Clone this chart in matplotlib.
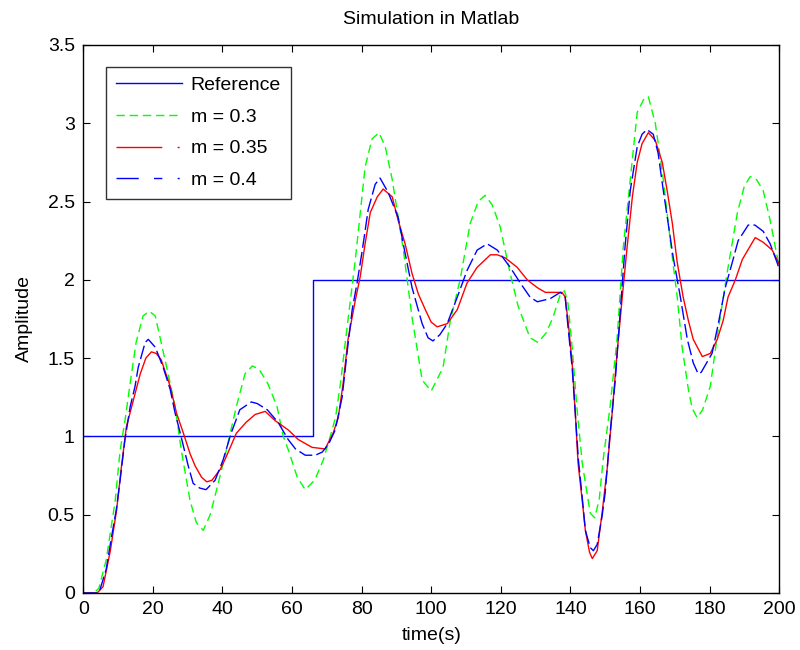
import matplotlib
matplotlib.use("Agg")
import matplotlib.pyplot as plt
from matplotlib.lines import Line2D

plt.rcParams['font.family'] = ['Liberation Sans', 'DejaVu Sans']

# Reference signal (step)
ref_t = [0, 66, 66, 200]
ref_y = [1, 1, 2, 2]

# m = 0.3
t_03 = [0, 3, 4.5, 6.6, 9.2, 10.6, 12, 13.5, 15.2, 17.2, 19, 20.7, 22.4, 24.4, 26.4, 28.2,
        30.7, 32.5, 34.5, 36.5, 38.8, 41.1, 44, 46.5, 48.6, 50.5, 53, 55.7, 57.5, 59, 61.5,
        63.8, 66.5, 69, 71, 72.5, 74, 75.3, 78.2, 81, 83, 85, 86.8, 88.8, 92, 94.5, 97.4,
        100, 103.4, 105.5, 108.3, 111.2, 113.5, 115.5, 117.5, 119.8, 122.7, 125, 128.4,
        130.7, 133, 135, 137, 138.3, 139.3, 140.5, 142, 143.4, 145.7, 147, 148.3, 149.4,
        151.4, 153.4, 155.2, 157.2, 159.2, 161, 162.4, 164.4, 166.7, 168.7, 170.7, 172.1,
        173.9, 175, 176.4, 178, 180.2, 182.2, 185, 188, 190, 191.7, 193.5, 195.4, 197.4,
        199.4, 200]
y_03 = [0, 0, 0.03, 0.21, 0.59, 0.91, 1.10, 1.34, 1.60, 1.77, 1.80, 1.77, 1.60, 1.40, 1.19, 0.91,
        0.59, 0.45, 0.40, 0.50, 0.70, 0.91, 1.19, 1.40, 1.45, 1.43, 1.34, 1.19, 1.00, 0.91, 0.74,
        0.66, 0.72, 0.85, 1.00, 1.12, 1.35, 1.60, 2.13, 2.72, 2.90, 2.94, 2.85, 2.64, 2.19, 1.76, 1.36,
        1.29, 1.44, 1.74, 2.00, 2.36, 2.50, 2.54, 2.48, 2.34, 2.04, 1.83, 1.63,
        1.60, 1.66, 1.76, 1.90, 1.93, 1.85, 1.57, 1.15, 0.83, 0.51, 0.48, 0.60, 0.85,
        1.19, 1.62, 2.21, 2.64, 3.07, 3.15, 3.17, 3.00, 2.64, 2.25, 1.89, 1.57,
        1.30, 1.18, 1.12, 1.17, 1.32, 1.64, 2.04, 2.43, 2.60, 2.66, 2.64, 2.57, 2.38,
        2.15, 2.08]

# m = 0.35
t_035 = [0, 4, 5.7, 7.8, 9.6, 11, 12.4, 14.4, 16.4, 18, 19.6, 21, 22.4, 25, 26.8, 28.8, 30.7,
         32.2, 34, 35.5, 37, 39.4, 41.1, 44, 46.8, 49.4, 52.3, 55.2, 59, 61.8, 65.8, 69.5,
         71.8, 73.3, 74.7, 76.1, 78.2, 79.6, 81, 82.5, 84.5, 86.2, 88.8, 90.5, 92.5, 94.5,
         96.3, 98.3, 100, 101.7, 104.6, 107.5, 110.3, 113.2, 117, 119, 121.3, 124.7, 127.6,
         130.5, 132.8, 137.6, 138.5, 139.4, 140.5, 141.4, 142.2, 143.4, 144.3, 145.5, 146.3,
         147.7, 149.1, 150.6, 152, 153.4, 154.9, 156.3, 157.8, 159.2, 160.6, 162.4, 164.4,
         166.4, 167.8, 169.3, 170.7, 172.4, 173.9, 175.3, 177.9, 180.2, 182.2, 183.9, 185.3,
         187.4, 189.4, 193.1, 195.4, 198, 200]
y_035 = [0, 0, 0.04, 0.27, 0.53, 0.81, 1.06, 1.23, 1.40, 1.50, 1.54, 1.53, 1.49, 1.32, 1.15, 1.02, 0.89,
         0.81, 0.74, 0.71, 0.72, 0.79, 0.87, 1.02, 1.09, 1.14, 1.16, 1.10, 1.04, 0.98, 0.93, 0.92,
         1.02, 1.12, 1.34, 1.62, 1.87, 2.02, 2.23, 2.43, 2.53, 2.58, 2.53, 2.38, 2.23, 2.04,
         1.91, 1.81, 1.73, 1.70, 1.72, 1.81, 1.98, 2.08, 2.16, 2.16, 2.14, 2.08, 2.00,
         1.95, 1.92, 1.92, 1.89, 1.72, 1.47, 1.15, 0.83, 0.59, 0.40, 0.26, 0.22,
         0.27, 0.51, 0.80, 1.15, 1.53, 1.89, 2.21, 2.53, 2.75, 2.87, 2.94, 2.89,
         2.75, 2.57, 2.36, 2.11, 1.89, 1.74, 1.62, 1.51, 1.53, 1.62, 1.74, 1.89,
         2.00, 2.13, 2.27, 2.24, 2.19, 2.10]

# m = 0.4
t_04 = [0, 4, 4.8, 6.6, 8, 9.5, 10.6, 12, 13.5, 14.9, 15.8, 17.8, 18.7, 20.7, 23, 25, 26.4, 27.9,
        30.2, 31.6, 33.5, 35.3, 37.9, 40.2, 42.5, 45, 48.3, 50, 52.9, 56, 58.9, 61, 63.8, 66.7,
        68.7, 70.5, 72.4, 74.4, 75.9, 77.3, 78.7, 80.2, 81.9, 83.9, 85.3, 87.6, 90.5, 92.5,
        94.5, 97.4, 99.1, 100.5, 102.5, 104.6, 107.5, 110.3, 113.2, 116.1, 119, 122.7, 125.6,
        128.4, 130.5, 134.2, 137.1, 138.5, 139.4, 140.5, 141.4, 142.3, 143.4, 144.3, 145.7,
        146.6, 147.7, 149.1, 150, 151.4, 152.9, 154.3, 155.7, 157.2, 159.2, 160.6, 162, 163.8,
        165.2, 166.7, 168.1, 169.5, 171.6, 173.6, 175.3, 176.7, 177.6, 180.7, 182.5, 184.5,
        186.5, 188.2, 191.1, 193, 195.4, 197.4, 199.4, 200]
y_04 = [0, 0, 0.02, 0.15, 0.34, 0.53, 0.72, 0.98, 1.19, 1.32, 1.44, 1.60, 1.62, 1.57, 1.44, 1.30, 1.15, 1.02,
        0.81, 0.70, 0.67, 0.66, 0.72, 0.85, 1.02, 1.17, 1.22, 1.21, 1.17, 1.09, 0.98, 0.92, 0.88, 0.88,
        0.90, 0.95, 1.04, 1.25, 1.55, 1.81, 1.98, 2.19, 2.45, 2.61, 2.65, 2.56, 2.40, 2.17,
        1.95, 1.72, 1.63, 1.61, 1.65, 1.72, 1.89, 2.06, 2.19, 2.23, 2.19, 2.08, 1.98,
        1.89, 1.86, 1.88, 1.92, 1.89, 1.68, 1.44, 1.15, 0.85, 0.61, 0.40, 0.29,
        0.27, 0.31, 0.49, 0.64, 1.02, 1.36, 1.79, 2.21, 2.57, 2.85, 2.93, 2.96, 2.93,
        2.81, 2.57, 2.36, 2.15, 1.89, 1.62, 1.47, 1.40, 1.41, 1.53, 1.72, 1.95,
        2.11, 2.25, 2.35, 2.35, 2.31, 2.23, 2.11, 2.07]

labels = ['Reference', 'm = 0.3', 'm = 0.35', 'm = 0.4']
x_ticks = [0, 20, 40, 60, 80, 100, 120, 140, 160, 180, 200]
y_ticks = [0, 0.5, 1, 1.5, 2, 2.5, 3, 3.5]

FS = 14
fig = plt.figure(figsize=(8, 6.5), dpi=100)
ax = fig.add_axes([0.104, 0.0877, 0.870, 0.8431])

ax.plot(ref_t, ref_y, color='#0000ff', lw=1.0)
ax.plot(t_03, y_03, color='#00ff00', lw=1.0, linestyle=(0, (6, 3.5)))
ax.plot(t_035, y_035, color='#ff0000', lw=1.0, linestyle='-')
ax.plot(t_04, y_04, color='#0000ff', lw=1.0, linestyle=(0, (10, 3)))

ax.set_xlim(0, 200)
ax.set_ylim(0, 3.5)
ax.set_xticks(x_ticks)
ax.set_yticks(y_ticks)
ax.set_xticklabels([str(v) for v in x_ticks])
ax.set_yticklabels(['0', '0.5', '1', '1.5', '2', '2.5', '3', '3.5'])
ax.tick_params(direction='in', length=5, width=0.8, top=True, right=True,
               labelsize=FS, pad=6)
for s in ax.spines.values():
    s.set_linewidth(1.0)
    s.set_color('black')

ax.set_title('Simulation in Matlab', fontsize=FS, pad=15)
ax.set_xlabel('time(s)', fontsize=FS, labelpad=6)
ax.set_ylabel('Amplitude', fontsize=FS, labelpad=11)

handles = [
    Line2D([], [], color='#0000ff', lw=1.0),
    Line2D([], [], color='#00ff00', lw=1.0, linestyle=(0, (6, 3.5))),
    Line2D([], [], color='#ff0000', lw=1.0, linestyle=(0, (33, 11, 1.5, 3))),
    Line2D([], [], color='#0000ff', lw=1.0, linestyle=(0, (16, 11, 6, 11, 1.5, 5))),
]
leg = ax.legend(handles, labels, loc='upper left', bbox_to_anchor=(0.033, 0.96),
                borderaxespad=0, fontsize=FS, frameon=True, fancybox=False,
                handlelength=3.4, handletextpad=0.45, labelspacing=0.72,
                borderpad=0.5)
leg.get_frame().set_edgecolor('black')
leg.get_frame().set_linewidth(1.0)

fig.savefig('out.png', dpi=100)
